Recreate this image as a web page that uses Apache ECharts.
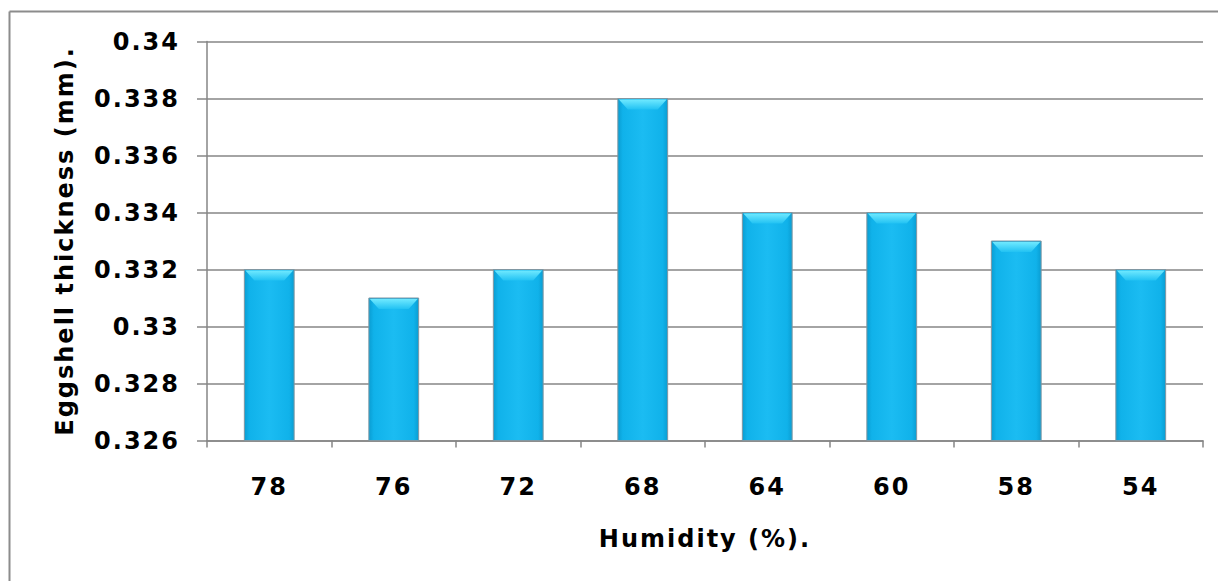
<!DOCTYPE html>
<html>
<head>
<meta charset="utf-8">
<script src="https://cdn.jsdelivr.net/npm/echarts@6/dist/echarts.min.js"></script>
<style>
html,body{margin:0;padding:0;background:#fff;}
#chart{width:1218px;height:581px;}
#chart text{letter-spacing:2px;}
</style>
</head>
<body>
<div id="chart"></div>
<script>
const categories = ['78', '76', '72', '68', '64', '60', '58', '54'];
const thickness = [0.332, 0.331, 0.332, 0.338, 0.334, 0.334, 0.333, 0.332];
const yMin = 0.326;
const yMax = 0.340;
const yStep = 0.002;
const xTitle = 'Humidity (%).';
const yTitle = 'Eggshell thickness (mm).';

const chart = echarts.init(document.getElementById('chart'), null, {renderer: 'svg'});
const FONT = '"DejaVu Sans", Verdana, sans-serif';

function renderBar(params, api) {
  const idx = api.value(0);
  const val = api.value(1);
  const top = api.coord([idx, val]);
  const base = api.coord([idx, yMin]);
  const band = api.size([1, 0])[0];
  const w = band * 0.4;
  const x = top[0] - w / 2;
  const y = top[1];
  const h = base[1] - top[1];
  const bev = 11;
  const inset = 10;
  return {
    type: 'group',
    children: [
      {
        type: 'rect',
        shape: {x: x, y: y, width: w, height: h},
        style: {
          fill: new echarts.graphic.LinearGradient(0, 0, 1, 0, [
            {offset: 0, color: '#0a9dd2'},
            {offset: 0.1, color: '#10b2ea'},
            {offset: 0.5, color: '#1bbcf2'},
            {offset: 0.9, color: '#10b2ea'},
            {offset: 1, color: '#0a9dd2'}
          ]),
          stroke: '#8097a2',
          lineWidth: 1
        }
      },
      {
        type: 'polygon',
        shape: {points: [[x + 1, y + 1], [x + w - 1, y + 1], [x + w - inset, y + bev], [x + inset, y + bev]]},
        style: {
          fill: new echarts.graphic.LinearGradient(0, 0, 0, 1, [
            {offset: 0, color: '#6fe9ff'},
            {offset: 1, color: '#22c2f3'}
          ])
        }
      }
    ]
  };
}

const option = {
  backgroundColor: '#ffffff',
  animation: false,
  grid: {left: 207, right: 15, top: 41.5, bottom: 140.5, containLabel: false},
  xAxis: {
    type: 'category',
    data: categories,
    boundaryGap: true,
    name: xTitle,
    nameLocation: 'middle',
    nameGap: 86,
    nameTextStyle: {fontFamily: FONT, fontWeight: 'bold', fontSize: 24, color: '#000'},
    axisLine: {show: true, lineStyle: {color: '#868686', width: 1.5}},
    axisTick: {show: true, length: 7, alignWithLabel: false, lineStyle: {color: '#868686', width: 1.5}},
    axisLabel: {fontFamily: FONT, fontWeight: 'bold', fontSize: 24, color: '#000', margin: 34},
    splitLine: {show: false}
  },
  yAxis: {
    type: 'value',
    min: yMin,
    max: yMax,
    interval: yStep,
    name: yTitle,
    nameLocation: 'middle',
    nameGap: 130,
    nameRotate: 90,
    nameTextStyle: {fontFamily: FONT, fontWeight: 'bold', fontSize: 24, color: '#000'},
    axisLine: {show: true, lineStyle: {color: '#868686', width: 1.5}},
    axisTick: {show: true, length: 10, lineStyle: {color: '#868686', width: 1.5}},
    axisLabel: {
      fontFamily: FONT, fontWeight: 'bold', fontSize: 24, color: '#000', margin: 27,
      formatter: v => String(parseFloat(v.toFixed(3)))
    },
    splitLine: {show: true, lineStyle: {color: '#868686', width: 1.5}}
  },
  graphic: [
    {type: 'line', shape: {x1: 9.5, y1: 11.5, x2: 1218, y2: 11.5}, style: {stroke: '#8c8c8c', lineWidth: 2}, silent: true},
    {type: 'line', shape: {x1: 9.5, y1: 11.5, x2: 9.5, y2: 581}, style: {stroke: '#8c8c8c', lineWidth: 2}, silent: true}
  ],
  series: [{
    type: 'custom',
    renderItem: renderBar,
    data: thickness.map((v, i) => [i, v]),
    encode: {x: 0, y: 1},
    z: 3
  }]
};
chart.setOption(option);
</script>
</body>
</html>
